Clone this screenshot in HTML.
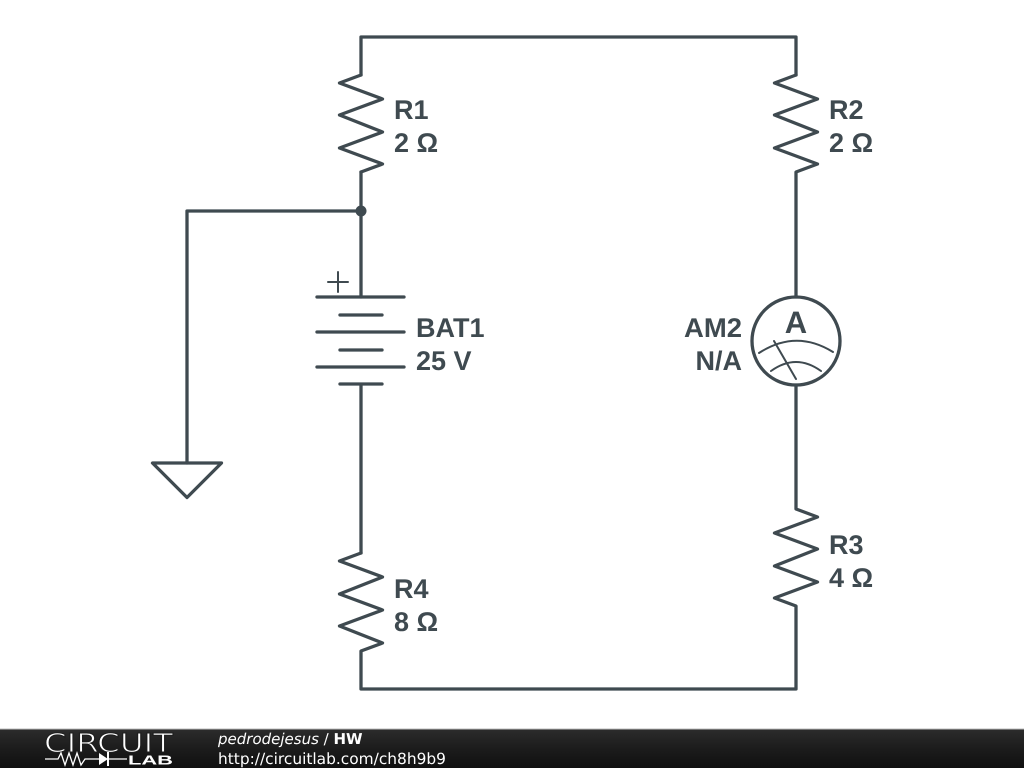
<!DOCTYPE html>
<html><head><meta charset="utf-8"><style>
html,body{margin:0;padding:0;background:#fff;width:1024px;height:768px;overflow:hidden}
svg{display:block}
text{text-rendering:geometricPrecision}
.l{font:bold 27px "Liberation Sans",sans-serif;fill:#3f4a50}
</style></head><body>
<svg width="1024" height="768" viewBox="0 0 1024 768" xmlns="http://www.w3.org/2000/svg">
<defs><linearGradient id="g" x1="0" y1="0" x2="0" y2="1"><stop offset="0" stop-color="#2c2c2c"/><stop offset=".5" stop-color="#1c1c1c"/><stop offset="1" stop-color="#101010"/></linearGradient></defs>
<rect width="1024" height="768" fill="#fff"/>
<g fill="none" stroke="#3f4a50" stroke-width="3.3" stroke-linecap="round" stroke-linejoin="round">
<path d="M361 75V37H796V75"/>
<path d="M361 75L339.5 83L382.5 99L339.5 115L382.5 132L339.5 148L382.5 164L361 172"/>
<path d="M796 75L774.5 83L817.5 99L774.5 115L817.5 132L774.5 148L817.5 164L796 172V297"/>
<path d="M361 172V297M187 463V211H361"/>
<path d="M317 297H404M340 315H382M317 332H404M340 350H382M317 367H404M340 384H382M361 384V553"/>
<path d="M361 553L339.5 561L382.5 577L339.5 594L382.5 610L339.5 626L382.5 643L361 651V689H796V606L774.5 598L817.5 582L774.5 566L817.5 549L774.5 533L817.5 517L796 509V385"/>
<path d="M152.5 463H221.5L187 497.5Z"/>
<circle cx="796" cy="341" r="44"/>
</g>
<circle cx="361" cy="211" r="5.5" fill="#3f4a50"/>
<g fill="none" stroke="#3f4a50" stroke-width="2" stroke-linecap="round">
<path d="M328 282H348M338 272V292"/>
<path d="M759 353Q796 329 833 352M771 371Q796 353 821 371M774 341L796 379"/>
</g>
<text class="l" x="394" y="119">R1</text>
<text class="l" x="394" y="152">2 Ω</text>
<text class="l" x="829" y="119">R2</text>
<text class="l" x="829" y="152">2 Ω</text>
<text class="l" x="416" y="337">BAT1</text>
<text class="l" x="416" y="370">25 V</text>
<text class="l" x="684" y="337" textLength="58" lengthAdjust="spacingAndGlyphs">AM2</text>
<text class="l" x="742" y="370" text-anchor="end">N/A</text>
<text class="l" x="796" y="333" text-anchor="middle" style="font-size:31px">A</text>
<text class="l" x="829" y="554">R3</text>
<text class="l" x="829" y="587">4 Ω</text>
<text class="l" x="394" y="598">R4</text>
<text class="l" x="394" y="631">8 Ω</text>
<rect y="729" width="1024" height="39" fill="url(#g)"/>
<rect y="728.5" width="1024" height="1" fill="#bbb"/>
<text x="44" y="752" font-family="'DejaVu Sans',sans-serif" font-size="26" fill="#fff" stroke="#1e1e1e" stroke-width="1" textLength="129" lengthAdjust="spacingAndGlyphs">CIRCUIT</text>
<g fill="none" stroke="#fff" stroke-width="1.3"><path d="M45 759H58L61 753L65 765L69 753L73 765L77 753L81 765L85 759H99M109 759H127"/></g>
<path d="M99 753L108 759L99 765Z" fill="#fff"/>
<rect x="107" y="752" width="2" height="14" fill="#fff"/>
<text x="128" y="764.5" font-family="'Liberation Sans',sans-serif" font-weight="bold" font-size="13" fill="#fff" textLength="45" lengthAdjust="spacingAndGlyphs">LAB</text>
<text x="218" y="744" font-family="'DejaVu Sans',sans-serif" font-size="15" fill="#fff"><tspan font-style="italic">pedrodejesus</tspan> / <tspan font-weight="bold">HW</tspan></text>
<text x="218" y="764" font-family="'DejaVu Sans',sans-serif" font-size="15.4" fill="#fff">http://circuitlab.com/ch8h9b9</text>
</svg>
</body></html>
